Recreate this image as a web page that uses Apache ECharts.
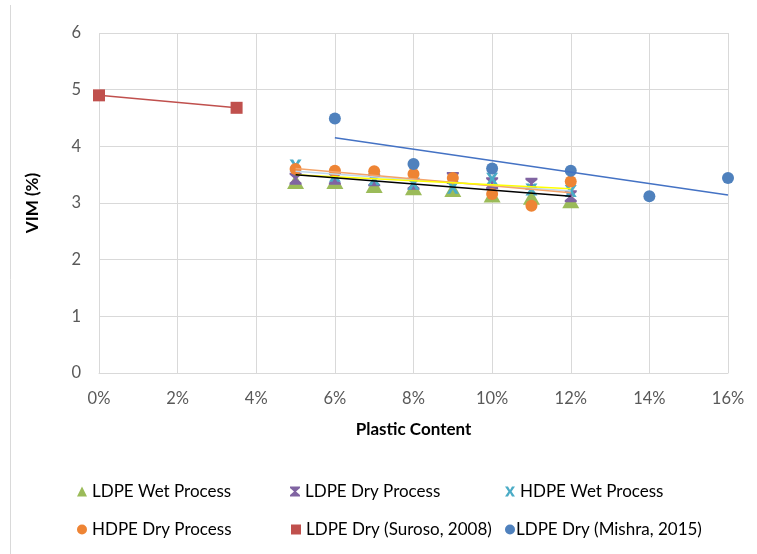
<!DOCTYPE html>
<html><head><meta charset="utf-8">
<script src="https://cdn.jsdelivr.net/npm/echarts@6/dist/echarts.min.js"></script>
<style>html,body{margin:0;padding:0;background:#fff}#c{width:757px;height:554px}</style>
</head><body><div id="c"></div>
<script>
// Data
var xMain = [5, 6, 7, 8, 9, 10, 11, 12];
var ldpeWet = [3.38, 3.38, 3.31, 3.27, 3.24, 3.14, 3.10, 3.04];
var ldpeDry = [3.43, 3.43, 3.40, 3.34, 3.44, 3.35, 3.34, 3.12];
var hdpeWet = [3.66, 3.48, 3.42, 3.34, 3.27, 3.43, 3.24, 3.21];
var hdpeDry = [3.60, 3.57, 3.56, 3.51, 3.44, 3.16, 2.95, 3.38];
var xSuroso = [0, 3.5];
var suroso = [4.90, 4.68];
var xMishra = [6, 8, 10, 12, 14, 16];
var mishra = [4.49, 3.69, 3.61, 3.57, 3.12, 3.44];
// trendline endpoints
var trendX = [5, 12];
var trendBlack = [3.50, 3.12];
var trendYellow = [3.50, 3.25];
var trendLightBlue = [3.56, 3.21];
var trendOrange = [3.61, 3.18];
var trendMishraX = [6, 16];
var trendMishra = [4.15, 3.14];

var FONT = "Lato, 'Liberation Sans', sans-serif";
function pairs(xs, ys) { return xs.map(function (x, i) { return [x, ys[i]]; }); }

var HOURGLASS = 'path://M0,0 L10,0 L10,1.6 L6,5 L10,8.4 L10,10 L0,10 L0,8.4 L4,5 L0,1.6 Z';
var XMARK = 'path://M0,0 L3,0 L5,3.4 L7,0 L10,0 L6.6,5 L10,10 L7,10 L5,6.6 L3,10 L0,10 L3.4,5 Z';

var names = ['LDPE Wet Process', 'LDPE Dry Process', 'HDPE Wet Process', 'HDPE Dry Process', 'LDPE Dry (Suroso, 2008)', 'LDPE Dry (Mishra, 2015)'];
var colors = ['#9BBB59', '#8064A2', '#4BACC6', '#EE8434', '#C0504D', '#4F81BD'];

function scatter(i, data, symbol, size) {
  return {
    name: names[i], type: 'scatter', data: data, symbol: symbol, symbolSize: size,
    itemStyle: { color: colors[i], opacity: 1 }, z: 2 + i, emphasis: { disabled: true }
  };
}
function trend(xs, ys, color, w) {
  return {
    type: 'line', data: pairs(xs, ys), symbol: 'none', silent: true, z: 10,
    lineStyle: { color: color, width: w || 1.5 }
  };
}

var legendPos = [[77, 483], [290, 483], [505, 483], [77, 521], [291, 521], [505, 521]];
var legendGap = [0, 0, 0, 0, 0, -4];
var legendIcons = ['triangle', HOURGLASS, XMARK, 'circle', 'rect', 'circle'];
var legends = names.map(function (n, i) {
  return {
    data: [{ name: n, icon: legendIcons[i] }], left: legendPos[i][0], top: legendPos[i][1],
    padding: 0, itemWidth: 10, itemHeight: 10, itemGap: 0, selectedMode: false,
    textStyle: { fontFamily: FONT, fontSize: 17, color: '#000', padding: [0, 0, 0, legendGap[i]] }
  };
});

var chart = echarts.init(document.getElementById('c'), null, { renderer: 'canvas' });
chart.setOption({
  animation: false,
  backgroundColor: '#fff',
  grid: { left: 99, right: 29, top: 33, bottom: 181 },
  legend: legends,
  xAxis: {
    type: 'value', min: 0, max: 16, interval: 2,
    name: 'Plastic Content', nameLocation: 'middle', nameGap: 48,
    nameTextStyle: { fontFamily: FONT, fontSize: 17, fontWeight: 'bold', color: '#000' },
    axisLine: { show: true, lineStyle: { color: '#D9D9D9' } },
    axisTick: { show: false },
    splitLine: { show: true, lineStyle: { color: '#D9D9D9', width: 1 } },
    axisLabel: { formatter: '{value}%', margin: 17, fontFamily: FONT, fontSize: 16.5, color: '#595959' }
  },
  yAxis: {
    type: 'value', min: 0, max: 6, interval: 1,
    name: 'VIM (%)', nameLocation: 'middle', nameGap: 58, nameRotate: 90,
    nameTextStyle: { fontFamily: FONT, fontSize: 17, fontWeight: 'bold', color: '#000' },
    axisLine: { show: false }, axisTick: { show: false },
    splitLine: { show: true, lineStyle: { color: '#D9D9D9', width: 1 } },
    axisLabel: { margin: 18, fontFamily: FONT, fontSize: 16.5, color: '#595959' }
  },
  graphic: [{
    type: 'line', shape: { x1: 10.5, y1: 5, x2: 10.5, y2: 554 },
    style: { stroke: '#D9D9D9', lineWidth: 1 }, silent: true
  }],
  series: [
    scatter(0, pairs(xMain, ldpeWet), 'triangle', [17, 15]),
    scatter(1, pairs(xMain, ldpeDry), HOURGLASS, 12),
    scatter(2, pairs(xMain, hdpeWet), XMARK, 12),
    scatter(3, pairs(xMain, hdpeDry), 'circle', 12),
    {
      name: names[4], type: 'line', data: pairs(xSuroso, suroso), symbol: 'rect', symbolSize: 12,
      itemStyle: { color: colors[4] }, lineStyle: { color: colors[4], width: 1.5 }, z: 6
    },
    scatter(5, pairs(xMishra, mishra), 'circle', 12),
    trend(trendX, trendLightBlue, '#BDD7EE', 1.5),
    trend(trendX, trendOrange, '#F4A46A', 1.5),
    trend(trendX, trendYellow, '#FFFF00', 1.5),
    trend(trendX, trendBlack, '#000000', 1.5),
    trend(trendMishraX, trendMishra, '#4472C4', 1.5)
  ]
});
</script></body></html>
